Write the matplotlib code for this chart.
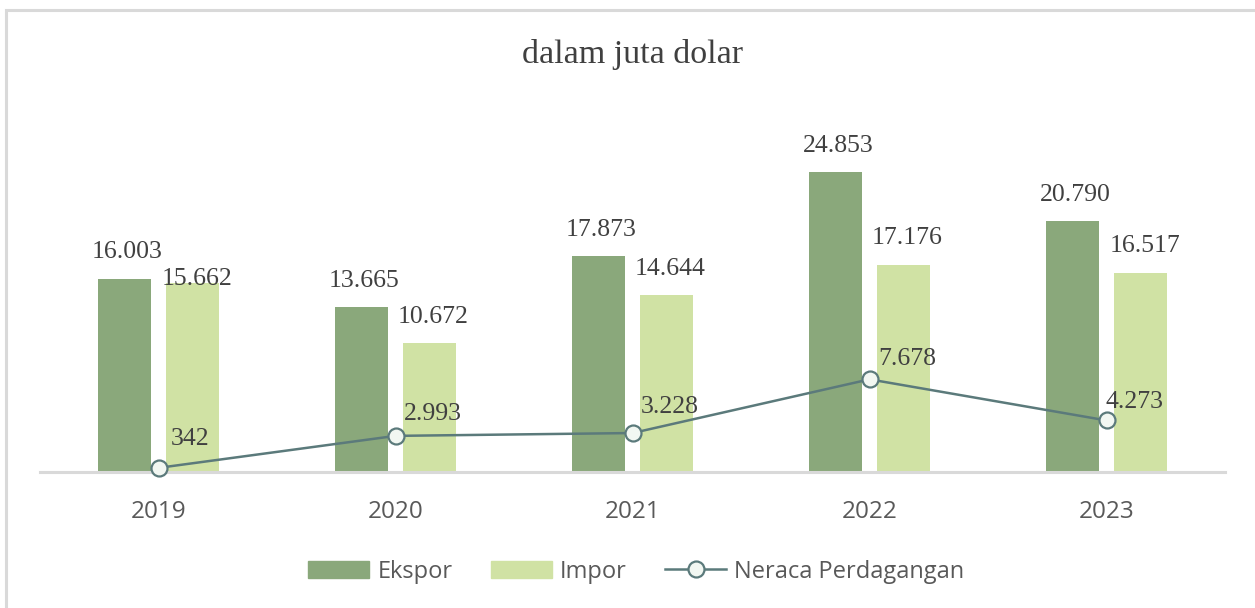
import matplotlib.pyplot as plt
import numpy as np
from matplotlib.patches import Rectangle
from matplotlib.lines import Line2D
from matplotlib.patches import Patch

years = ["2019", "2020", "2021", "2022", "2023"]
ekspor = [16003, 13665, 17873, 24853, 20790]
impor = [15662, 10672, 14644, 17176, 16517]
neraca = [342, 2993, 3228, 7678, 4273]


def fmt(v):
    # thousand separator with a dot
    return f"{v:,}".replace(",", ".")


C_EKS = "#8aa87b"
C_IMP = "#d0e2a4"
C_LINE = "#5b7a7b"
TXT = "#404040"

fig = plt.figure(figsize=(12.55, 6.08), dpi=100)
ax = fig.add_axes([0.0319, 0.2237, 0.9442, 0.5954])

x = np.arange(len(years))
w = 0.224
off = 0.143
ax.bar(x - off, ekspor, width=w, color=C_EKS, zorder=2)
ax.bar(x + off, impor, width=w, color=C_IMP, zorder=2)
ax.plot(x, neraca, color=C_LINE, lw=1.8, marker="o", ms=11.5,
        mfc="#f2f7f2", mec=C_LINE, mew=1.6, zorder=4, clip_on=False)

ax.set_xlim(-0.5, len(years) - 0.5)
ax.set_ylim(0, 30000)

serif = dict(family="Liberation Serif", size=18.5, color=TXT)
for i in range(len(years)):
    ax.annotate(fmt(ekspor[i]), (x[i] - off, ekspor[i]), xytext=(2, 19),
                textcoords="offset points", ha="center", va="center", **serif)
    dy = 19 if i != 0 else 3
    ax.annotate(fmt(impor[i]), (x[i] + off, impor[i]), xytext=(3, dy),
                textcoords="offset points", ha="center", va="center", zorder=5, **serif)

# per-point nudges for the balance labels (points)
line_offsets = [(9, 21), (6, 16), (6, 19), (6, 15), (-1, 13)]
for i, (dx, dy) in enumerate(line_offsets):
    ax.annotate(fmt(neraca[i]), (x[i], neraca[i]), xytext=(dx, dy),
                textcoords="offset points", ha="left", va="center", zorder=5, **serif)

for s in ["top", "right", "left"]:
    ax.spines[s].set_visible(False)
ax.spines["bottom"].set_color("#d9d9d9")
ax.spines["bottom"].set_linewidth(2.2)
ax.spines["bottom"].set_zorder(3)
ax.set_yticks([])
ax.set_xticks(x)
ax.set_xticklabels(years, family="Open Sans", fontsize=17.5, color="#595959")
ax.tick_params(axis="x", length=0, pad=20)

fig.text(0.5036, 0.91, "dalam juta dolar", ha="center", va="center",
         family="Liberation Serif", fontsize=24.5, color=TXT)

handles = [Patch(color=C_EKS), Patch(color=C_IMP),
           Line2D([], [], color=C_LINE, lw=1.8, marker="o", ms=11.5,
                  mfc="#f2f7f2", mec=C_LINE, mew=1.6)]
fig.legend(handles, ["Ekspor", "Impor", "Neraca Perdagangan"], loc="center",
           bbox_to_anchor=(0.507, 0.06), ncol=3, frameon=False,
           prop=dict(family="Open Sans", size=17), labelcolor="#595959",
           handlelength=2.6, handleheight=0.7, handletextpad=0.35, columnspacing=1.6)

# outer frame (only left/top edges visible in the crop)
fig.patches.append(Rectangle((0.0048, -0.1), 1.2, 1.083, transform=fig.transFigure,
                             fill=False, ec="#d9d9d9", lw=2.2))

fig.savefig("out.png", dpi=100)
